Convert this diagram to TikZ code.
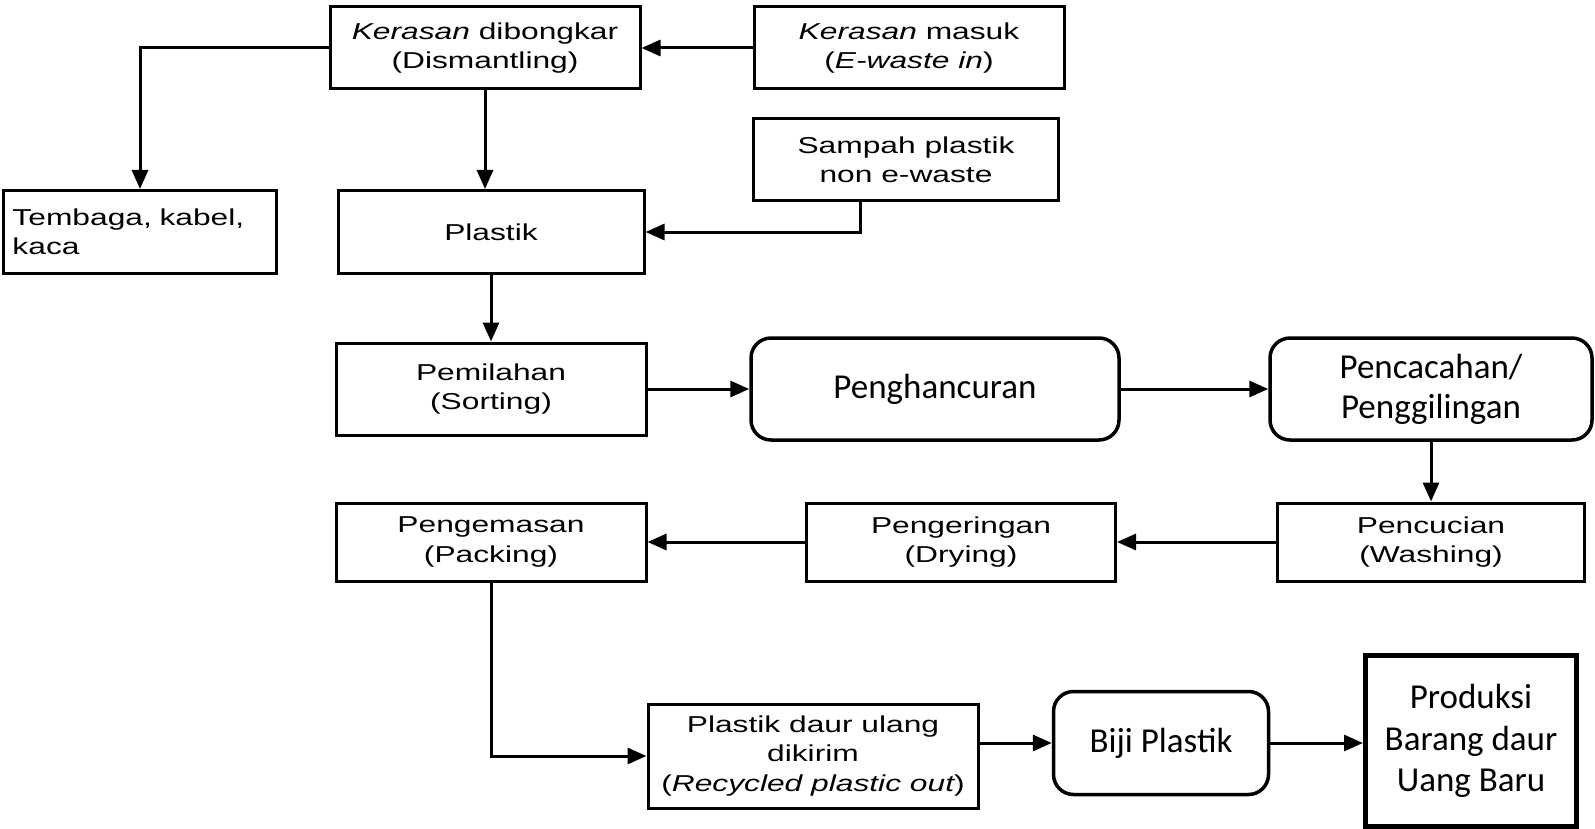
\documentclass[tikz,border=0pt]{standalone}
\usepackage{fontspec}
\setmainfont[FakeStretch=1.38]{Liberation Sans}
\newfontfamily\calibri{Carlito}
\usetikzlibrary{arrows.meta}
\tikzset{>={Triangle[length=19pt,width=16pt]}}

\begin{document}
\begin{tikzpicture}[x=1pt, y=-1pt,
  box/.style = {draw, line width=3pt, inner sep=0pt, align=center, font=\fontsize{23}{29.5}\selectfont},
  roundbox/.style = {draw, line width=3.5pt, rounded corners=20pt, inner sep=0pt, align=center, font=\calibri\fontsize{35}{40}\selectfont},
  flow/.style = {->, line width=3pt}]
\useasboundingbox (0,0) rectangle (1595,829);

% top part: e-waste in, dismantling
\node[box, minimum width=310pt, minimum height=82pt] (ewaste) at (909,48) {{\itshape Kerasan} masuk\\({\itshape E-waste in})};
\node[box, minimum width=310pt, minimum height=82pt] (dismantle) at (485,48) {{\itshape Kerasan} dibongkar\\(Dismantling)};
\node[box, minimum width=305pt, minimum height=82pt] (sampah) at (906,160) {Sampah plastik\\non e-waste};
\node[box, align=left, inner xsep=9pt, text width=255pt, minimum height=83pt] (tembaga) at (140,232) {Tembaga, kabel,\\kaca};
\node[box, minimum width=306pt, minimum height=83pt] (plastik) at (491,232) {Plastik};

% processing line
\node[box, minimum width=310pt, minimum height=92pt] (pemilahan) at (491,389) {Pemilahan\\(Sorting)};
\node[roundbox, minimum width=368pt, minimum height=102pt] (hancur) at (935,389) {Penghancuran};
\node[roundbox, minimum width=322pt, minimum height=102pt] (cacah) at (1431,389) {Pencacahan/\\Penggilingan};
\node[box, minimum width=307pt, minimum height=78pt] (cuci) at (1431,542) {Pencucian\\(Washing)};
\node[box, minimum width=309pt, minimum height=78pt] (kering) at (961,542) {Pengeringan\\(Drying)};
\node[box, minimum width=310pt, minimum height=78pt] (kemas) at (491,542) {Pengemasan\\(Packing)};

% output
\node[box, minimum width=330pt, minimum height=104pt] (daur) at (813,756) {Plastik daur ulang\\dikirim\\({\itshape Recycled plastic out})};
\node[roundbox, minimum width=215pt, minimum height=103pt] (biji) at (1161,743) {Biji Plastik};
\node[draw, line width=5pt, inner sep=0pt, align=center, font=\calibri\fontsize{35}{41.5}\selectfont,
  minimum width=211pt, minimum height=171pt] (produksi) at (1471,741) {Produksi\\Barang daur\\Uang Baru};

\draw[flow] (ewaste.west) -- (dismantle.east);
\draw[flow] (dismantle.west) -| (tembaga.north);
\draw[flow] (dismantle.south) -- (dismantle.south |- plastik.north);
\draw[flow] ([xshift=-46pt]sampah.south) |- (plastik.east);
\draw[flow] (plastik.south) -- (pemilahan.north);
\draw[flow] (pemilahan.east) -- (hancur.west);
\draw[flow] (hancur.east) -- (cacah.west);
\draw[flow] (cacah.south) -- (cuci.north);
\draw[flow] (cuci.west) -- (kering.east);
\draw[flow] (kering.west) -- (kemas.east);
\draw[flow] (kemas.south) |- (daur.west);
\draw[flow] (daur.east |- biji.west) -- (biji.west);
\draw[flow] (biji.east) -- (produksi.west |- biji.east);
\end{tikzpicture}
\end{document}
